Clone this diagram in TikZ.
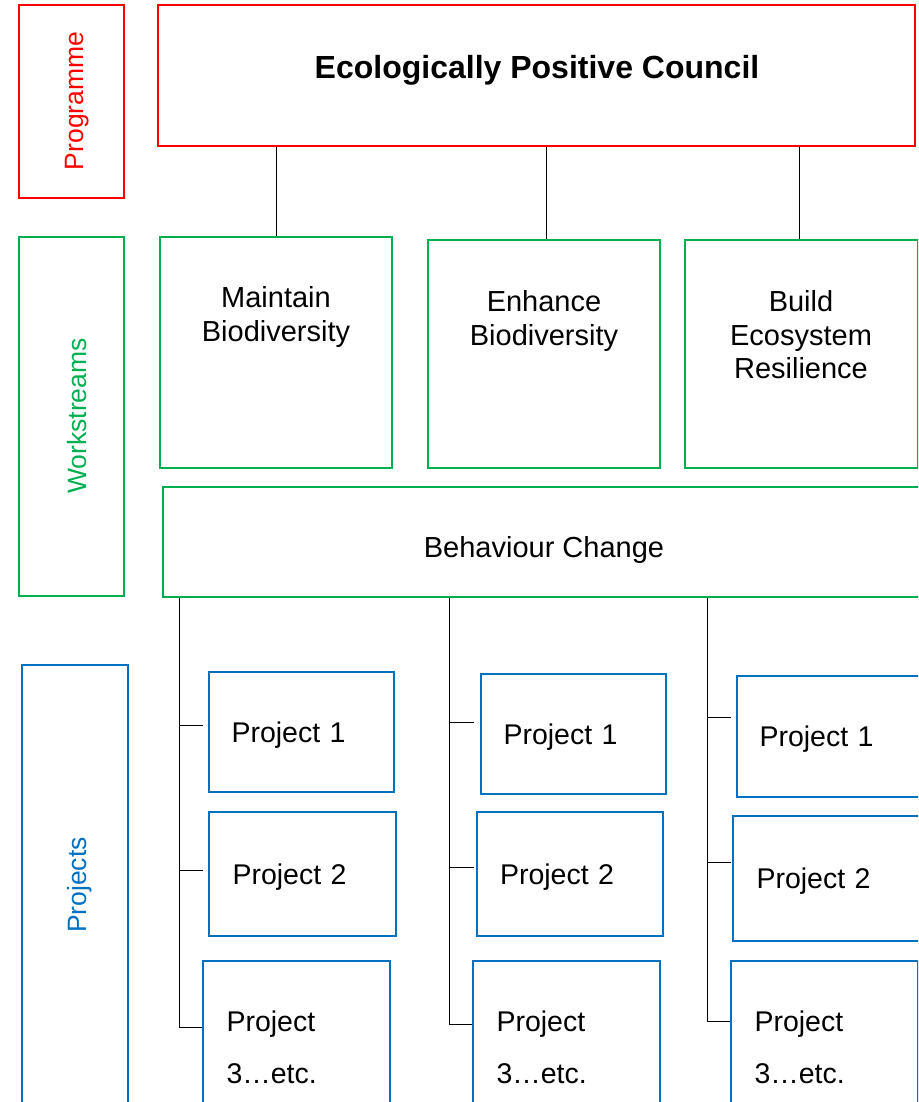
\documentclass[tikz,border=0pt]{standalone}
\usepackage{fontspec}
\setmainfont{Liberation Sans}
\usetikzlibrary{positioning, calc}
\definecolor{progred}{RGB}{255,0,0}
\definecolor{wsgreen}{RGB}{0,176,80}
\definecolor{projblue}{RGB}{0,112,192}

\begin{document}
\begin{tikzpicture}[x=1pt, y=-1pt,
    every node/.style={inner sep=0pt, font=\fontsize{29}{34}\selectfont},
    frame/.style 2 args={draw, line width=2pt, minimum width=#1, minimum height=#2},
    side/.style={rotate=90, font=\fontsize{26.5}{30}\selectfont},
    proj/.style 2 args={frame={#1}{#2}, draw=projblue, text width=140pt, align=left, inner xsep=21pt, text depth=0pt,
        font=\fontsize{28.5}{34}\selectfont},
    projlast/.style={frame={187}{172}, draw=projblue, text width=140pt, align=left, inner xsep=21pt,
        font=\fontsize{28.5}{52}\selectfont},
    link/.style={draw=black, line width=1pt}]
    \useasboundingbox (0,0) rectangle (918,1102);
    \clip (0,0) rectangle (918,1102);

    \node[frame={105}{193}, draw=progred] (prog) at (71.5,101.5) {};
    \node[side, text=progred] (progtext) at (77,101) {Programme};
    \node[frame={757}{141}, draw=progred] (title) at (536.5,75.5) {};
    \node[font=\bfseries\fontsize{32}{38}\selectfont] (titletext) at (537,70) {Ecologically Positive Council};

    \node[frame={105}{359}, draw=wsgreen] (ws) at (71.5,416.5) {};
    \node[side, text=wsgreen] (wstext) at (77,416) {Workstreams};
    \node[frame={232}{231}, draw=wsgreen] (maint) at (276,352.5) {};
    \node[align=center] (mainttext) at (276,317) {Maintain\\Biodiversity};
    \node[frame={232}{228}, draw=wsgreen] (enh) at (544,354) {};
    \node[align=center] (enhtext) at (544,321) {Enhance\\Biodiversity};
    \node[frame={233}{228}, draw=wsgreen] (build) at (801.5,354) {};
    \node[align=center, font=\fontsize{29}{33.5}\selectfont] (buildtext) at (801,335) {Build\\Ecosystem\\Resilience};
    \node[frame={797}{110}, draw=wsgreen] (beh) at (561.5,542) {};
    \node (behtext) at (544,550) {Behaviour Change};

    \draw[link] (title.south -| maint.north) -- (maint.north);
    \draw[link] ([xshift=2pt]title.south -| enh.north) -- ([xshift=2pt]enh.north);
    \draw[link] ([xshift=-2pt]title.south -| build.north) -- ([xshift=-2pt]build.north);

    \node[frame={106}{485}, draw=projblue] (pr) at (75,907.5) {};
    \node[side, text=projblue] (prtext) at (80,885) {Projects};

    \node[proj={185}{120}] (c11) at (301.5,732) {Project 1};
    \node[proj={187}{124}] (c12) at (302.5,874) {Project 2};
    \node[projlast] (c13) at (296.5,1047) {Project\\3\dots etc.};
    \node[proj={185}{120}] (c21) at (573.5,734) {Project 1};
    \node[proj={186}{124}] (c22) at (570,874) {Project 2};
    \node[projlast] (c23) at (566.5,1047) {Project\\3\dots etc.};
    \node[proj={185}{121}] (c31) at (829.5,736.5) {Project 1};
    \node[proj={187}{125}] (c32) at (826.5,878.5) {Project 2};
    \node[projlast] (c33) at (824.5,1047) {Project\\3\dots etc.};

    \coordinate (a11) at (179,725);
    \coordinate (a12) at (179,870);
    \coordinate (a13) at (179,1027);
    \coordinate (a21) at (449,722);
    \coordinate (a22) at (449,867);
    \coordinate (a23) at (449,1024);
    \coordinate (a31) at (707,717);
    \coordinate (a32) at (707,862);
    \coordinate (a33) at (707,1021);

    \draw[link] (beh.south -| a13) -- (a13) -- (a13 -| c13.west);
    \draw[link] (a11) -- ++(24,0);
    \draw[link] (a12) -- ++(24,0);
    \draw[link] (beh.south -| a23) -- (a23) -- (a23 -| c23.west);
    \draw[link] (a21) -- ++(25,0);
    \draw[link] (a22) -- ++(25,0);
    \draw[link] (beh.south -| a33) -- (a33) -- (a33 -| c33.west);
    \draw[link] (a31) -- ++(24,0);
    \draw[link] (a32) -- ++(24,0);
\end{tikzpicture}
\end{document}
